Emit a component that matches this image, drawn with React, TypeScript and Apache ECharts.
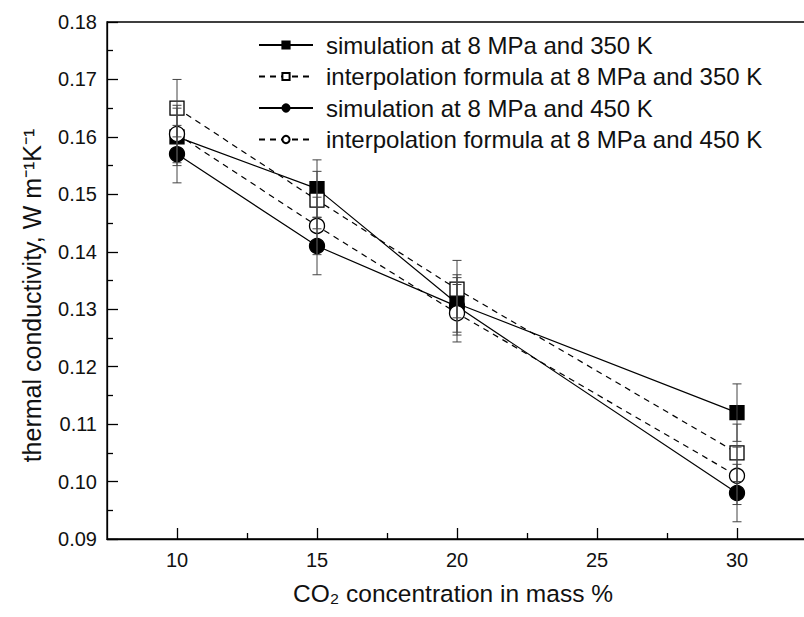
import React, { useEffect, useRef } from "react";
import * as echarts from "echarts";

const concentrations = [10, 15, 20, 30];
const sim350 = [0.16, 0.151, 0.131, 0.112];
const interp350 = [0.165, 0.149, 0.1335, 0.105];
const sim450 = [0.157, 0.141, 0.1305, 0.098];
const interp450 = [0.1605, 0.1445, 0.1293, 0.101];
const errSim350 = [0.005, 0.005, 0.005, 0.005];
const errInterp350 = [0.005, 0.005, 0.005, 0.005];
const errSim450 = [0.005, 0.005, 0.005, 0.005];
const errInterp450 = [0.005, 0.005, 0.005, 0.005];
const seriesNames = [
  "simulation at 8 MPa and 350 K",
  "interpolation formula at 8 MPa and 350 K",
  "simulation at 8 MPa and 450 K",
  "interpolation formula at 8 MPa and 450 K",
];
const xMajorTicks = [10, 15, 20, 25, 30];
const xMinorTicks = [12.5, 17.5, 22.5, 27.5];

const FONT = "'Liberation Sans', Arial, sans-serif";

function errorSeries(vals: number[], errs: number[]) {
  return {
    type: "custom",
    z: 10,
    silent: true,
    data: concentrations.map((x, i) => [x, vals[i] - errs[i], vals[i] + errs[i]]),
    renderItem: (params: any, api: any) => {
      const x = api.value(0);
      const lo = api.coord([x, api.value(1)]);
      const hi = api.coord([x, api.value(2)]);
      const hw = 4.5;
      const style = { stroke: "#444", lineWidth: 1 };
      return {
        type: "group",
        children: [
          { type: "line", shape: { x1: lo[0], y1: lo[1], x2: hi[0], y2: hi[1] }, style },
          { type: "line", shape: { x1: lo[0] - hw, y1: lo[1], x2: lo[0] + hw, y2: lo[1] }, style },
          { type: "line", shape: { x1: hi[0] - hw, y1: hi[1], x2: hi[0] + hw, y2: hi[1] }, style },
        ],
      };
    },
  };
}

function lineSeries(name: string, vals: number[], symbol: string, filled: boolean, dashed: boolean, size: number) {
  return {
    name,
    type: "line",
    data: concentrations.map((x, i) => [x, vals[i]]),
    symbol,
    symbolSize: size,
    showAllSymbol: true,
    lineStyle: { color: "#000", width: 1.2, type: dashed ? [6, 5] : "solid" },
    itemStyle: {
      color: filled ? "#000" : "#fff",
      borderColor: "#000",
      borderWidth: 1.3,
    },
    emphasis: { disabled: true },
    z: 3,
  };
}

export default function App() {
  const ref = useRef<HTMLDivElement>(null);
  useEffect(() => {
    if (!ref.current) return;
    const chart = echarts.init(ref.current, null, { renderer: "svg" });
    const axisLine = { show: true, lineStyle: { color: "#000", width: 1.3 } };
    chart.setOption({
      animation: false,
      backgroundColor: "#fff",
      textStyle: { fontFamily: FONT },
      grid: {
        left: 107,
        top: 22,
        width: 700,
        height: 517,
        show: true,
        borderColor: "#000",
        borderWidth: 1.3,
        backgroundColor: "transparent",
        outerBoundsMode: "none",
      },
      legend: {
        orient: "vertical",
        left: 253,
        top: 27,
        itemWidth: 54,
        itemHeight: 9,
        itemGap: 5.5,
        selectedMode: false,
        data: seriesNames,
        textStyle: { fontSize: 24, color: "#111", fontFamily: FONT, lineHeight: 26, padding: [0, 0, 0, 8] },
      },
      xAxis: [
        {
          type: "value",
          min: 7.5,
          max: 32.5,
          position: "bottom",
          axisLine,
          axisTick: { show: true, inside: true, length: 11, customValues: xMajorTicks, lineStyle: { color: "#000", width: 1.3 } },
          axisLabel: { customValues: xMajorTicks, margin: 11, fontSize: 20, color: "#111", fontFamily: FONT },
          splitLine: { show: false },
          name: "CO₂ concentration in mass %",
          nameLocation: "middle",
          nameGap: 42,
          nameTextStyle: { fontSize: 24.5, color: "#111", fontFamily: FONT, padding: [0, 8, 0, 0] },
        },
        {
          type: "value",
          min: 7.5,
          max: 32.5,
          position: "bottom",
          axisLine: { show: false },
          axisTick: { show: true, inside: true, length: 6, customValues: xMinorTicks, lineStyle: { color: "#000", width: 1.3 } },
          axisLabel: { show: false },
          splitLine: { show: false },
        },
      ],
      yAxis: {
        type: "value",
        min: 0.09,
        max: 0.18,
        interval: 0.01,
        axisLine,
        axisTick: { show: true, inside: true, length: 11, lineStyle: { color: "#000", width: 1.3 } },
        minorTick: { show: true, splitNumber: 2, length: 6, lineStyle: { color: "#000", width: 1.3 } },
        axisLabel: {
          margin: 10,
          fontSize: 20,
          color: "#111",
          fontFamily: FONT,
          formatter: (v: number) => v.toFixed(2),
        },
        splitLine: { show: false },
        name: "thermal conductivity, W m⁻¹K⁻¹",
        nameLocation: "middle",
        nameGap: 63,
        nameTextStyle: { fontSize: 25, color: "#111", fontFamily: FONT, padding: [0, 30, 0, 0] },
      },
      series: [
        lineSeries(seriesNames[0], sim350, "rect", true, false, 14),
        lineSeries(seriesNames[1], interp350, "rect", false, true, 14),
        lineSeries(seriesNames[2], sim450, "circle", true, false, 15),
        lineSeries(seriesNames[3], interp450, "circle", false, true, 15),
        errorSeries(sim350, errSim350),
        errorSeries(interp350, errInterp350),
        errorSeries(sim450, errSim450),
        errorSeries(interp450, errInterp450),
      ],
    });
    return () => chart.dispose();
  }, []);
  return (
    <div
      ref={ref}
      style={{ position: "fixed", left: 0, top: 0, width: 804, height: 617, background: "#fff" }}
    />
  );
}
